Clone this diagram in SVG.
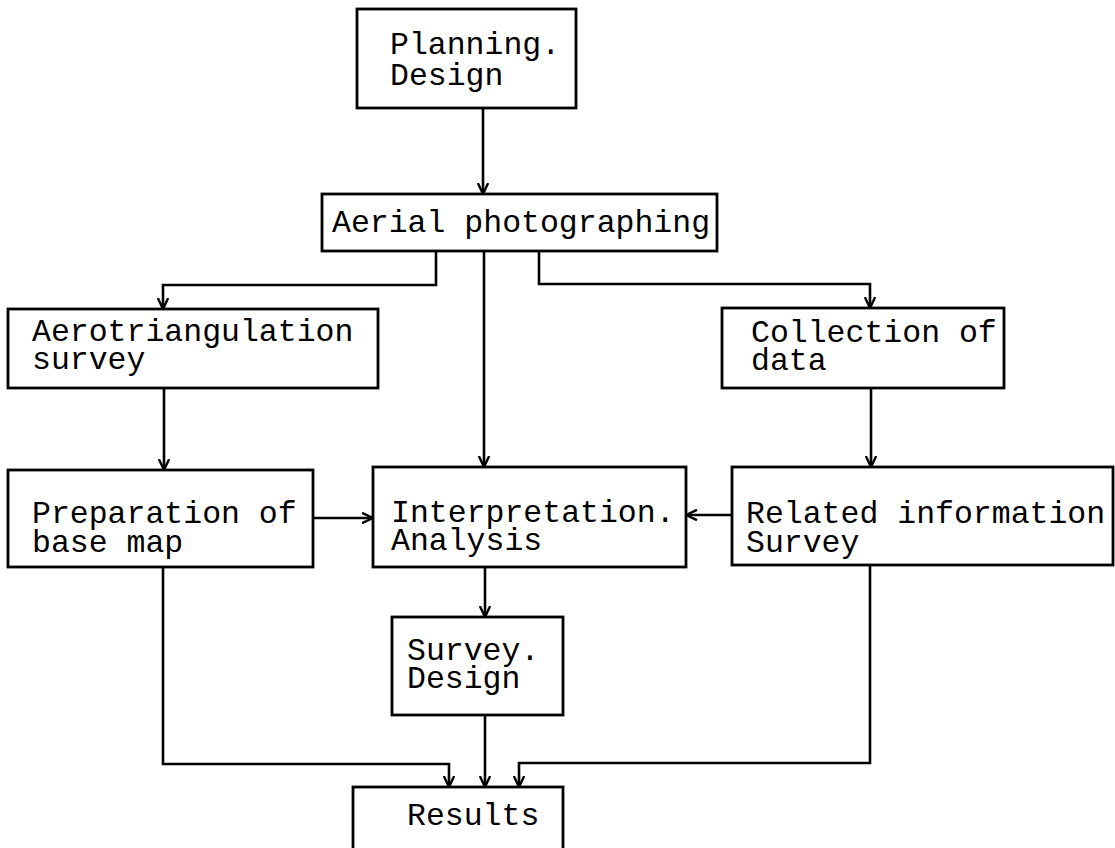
<svg xmlns="http://www.w3.org/2000/svg" width="1115" height="848" viewBox="0 0 1115 848">
<style>
.box{fill:none;stroke:#000;stroke-width:2.8}
.t{font-family:"Liberation Mono","DejaVu Sans Mono",monospace;font-size:31.5px;fill:#000}
.c{fill:none;stroke:#000;stroke-width:2.6}
</style>
<defs>
<marker id="ah" viewBox="0 0 12 12" refX="11.5" refY="6" markerWidth="12" markerHeight="12" markerUnits="userSpaceOnUse" orient="auto">
<path d="M0.5,0.8 L11.5,6 L0.5,11.2" fill="none" stroke="#000" stroke-width="2.4"/>
</marker>
</defs>
<rect width="1115" height="848" fill="#fff"/>
<g id="planning"><rect class="box" x="357" y="9" width="219" height="99"/><text class="t" x="390" y="54">Planning.</text><text class="t" x="390" y="85">Design</text></g>
<g id="aerial"><rect class="box" x="322" y="194" width="395" height="57"/><text class="t" x="332" y="232">Aerial photographing</text></g>
<g id="aerotri"><rect class="box" x="8" y="309" width="370" height="79"/><text class="t" x="32" y="341">Aerotriangulation</text><text class="t" x="32" y="369">survey</text></g>
<g id="collection"><rect class="box" x="722" y="308" width="282" height="80"/><text class="t" x="751" y="342">Collection of</text><text class="t" x="751" y="370">data</text></g>
<g id="preparation"><rect class="box" x="8" y="470" width="305" height="97"/><text class="t" x="32" y="523">Preparation of</text><text class="t" x="32" y="552">base map</text></g>
<g id="interpretation"><rect class="box" x="373" y="467" width="313" height="100"/><text class="t" x="391" y="522">Interpretation.</text><text class="t" x="391" y="550">Analysis</text></g>
<g id="related"><rect class="box" x="732" y="467" width="381" height="98"/><text class="t" x="746" y="523">Related information</text><text class="t" x="746" y="552">Survey</text></g>
<g id="surveydesign"><rect class="box" x="392" y="617" width="171" height="98"/><text class="t" x="407" y="660">Survey.</text><text class="t" x="407" y="688">Design</text></g>
<g id="results"><rect class="box" x="353" y="787" width="210" height="70"/><text class="t" x="407" y="825">Results</text></g>
<g id="connectors">
<path class="c" d="M483,108 V194" marker-end="url(#ah)"/>
<path class="c" d="M436,251 V285 H163 V309" marker-end="url(#ah)"/>
<path class="c" d="M539,251 V284 H870 V308" marker-end="url(#ah)"/>
<path class="c" d="M484,251 V467" marker-end="url(#ah)"/>
<path class="c" d="M164,388 V470" marker-end="url(#ah)"/>
<path class="c" d="M871,388 V467" marker-end="url(#ah)"/>
<path class="c" d="M313,518 H373" marker-end="url(#ah)"/>
<path class="c" d="M732,515 H686" marker-end="url(#ah)"/>
<path class="c" d="M485,567 V617" marker-end="url(#ah)"/>
<path class="c" d="M485,715 V787" marker-end="url(#ah)"/>
<path class="c" d="M163,567 V764 H449 V787" marker-end="url(#ah)"/>
<path class="c" d="M870,565 V763 H519 V787" marker-end="url(#ah)"/>
</g>
</svg>
